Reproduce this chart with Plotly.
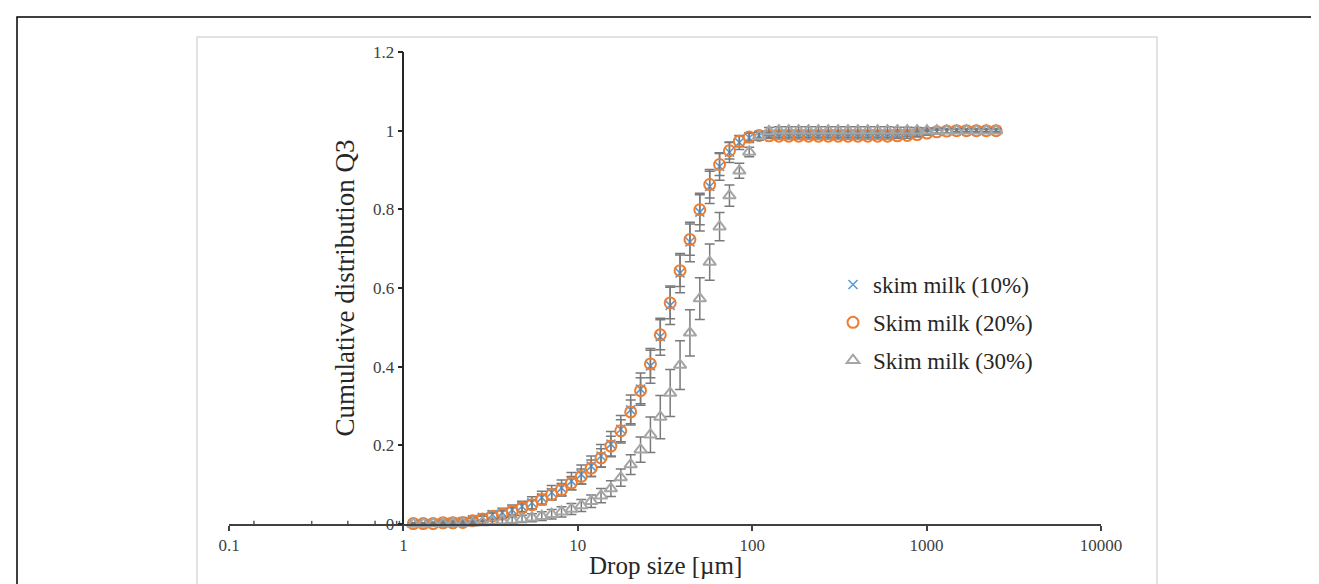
import plotly.graph_objects as go

# ---- data ----
drop_size_um = [1.141, 1.300, 1.481, 1.688, 1.922, 2.190, 2.495, 2.843, 3.238, 3.690,
                4.204, 4.789, 5.457, 6.217, 7.083, 8.070, 9.193, 10.47, 11.93, 13.59,
                15.48, 17.64, 20.10, 22.90, 26.09, 29.72, 33.86, 38.58, 43.95, 50.07,
                57.05, 65.00, 74.05, 84.37, 96.12, 109.5, 124.8, 142.2, 162.0, 184.5,
                210.2, 239.5, 272.9, 310.9, 354.2, 403.5, 459.7, 523.6, 596.7, 679.8,
                774.5, 882.3, 1005, 1145, 1305, 1486, 1693, 1929, 2198, 2503]

q3_10 = [0.001, 0.001, 0.002, 0.004, 0.005, 0.006, 0.011, 0.017, 0.024, 0.029,
         0.036, 0.045, 0.054, 0.067, 0.080, 0.092, 0.109, 0.126, 0.147, 0.173,
         0.203, 0.241, 0.290, 0.343, 0.402, 0.476, 0.556, 0.638, 0.717, 0.793,
         0.858, 0.909, 0.945, 0.970, 0.982, 0.988, 0.991, 0.992, 0.992, 0.992,
         0.992, 0.992, 0.992, 0.992, 0.992, 0.992, 0.992, 0.992, 0.992, 0.993,
         0.993, 0.994, 0.996, 0.998, 0.999, 1.000, 1.000, 1.000, 1.000, 1.000]
err_10 = [0.002, 0.002, 0.003, 0.004, 0.005, 0.006, 0.007, 0.008, 0.010, 0.011,
          0.012, 0.013, 0.015, 0.016, 0.018, 0.020, 0.022, 0.024, 0.026, 0.029,
          0.032, 0.035, 0.038, 0.041, 0.044, 0.047, 0.049, 0.050, 0.050, 0.048,
          0.043, 0.035, 0.026, 0.018, 0.012, 0.010, 0.009, 0.009, 0.009, 0.009,
          0.009, 0.009, 0.009, 0.009, 0.009, 0.009, 0.009, 0.009, 0.009, 0.009,
          0.008, 0.008, 0.007, 0.006, 0.005, 0.004, 0.004, 0.004, 0.004, 0.004]

q3_20 = [0.001, 0.001, 0.001, 0.003, 0.003, 0.004, 0.008, 0.013, 0.020, 0.025,
         0.032, 0.041, 0.049, 0.062, 0.075, 0.087, 0.104, 0.121, 0.142, 0.168,
         0.198, 0.237, 0.285, 0.339, 0.407, 0.481, 0.562, 0.644, 0.723, 0.799,
         0.863, 0.914, 0.949, 0.973, 0.984, 0.988, 0.987, 0.986, 0.986, 0.986,
         0.986, 0.986, 0.986, 0.986, 0.986, 0.986, 0.986, 0.986, 0.986, 0.987,
         0.988, 0.990, 0.994, 0.997, 0.999, 1.000, 1.000, 1.000, 1.000, 1.000]
err_20 = [0.002, 0.002, 0.002, 0.003, 0.004, 0.005, 0.006, 0.007, 0.008, 0.009,
          0.010, 0.011, 0.012, 0.013, 0.014, 0.016, 0.017, 0.019, 0.021, 0.023,
          0.025, 0.028, 0.030, 0.033, 0.035, 0.038, 0.040, 0.040, 0.040, 0.038,
          0.034, 0.028, 0.021, 0.014, 0.010, 0.008, 0.007, 0.007, 0.007, 0.007,
          0.007, 0.007, 0.007, 0.007, 0.007, 0.007, 0.007, 0.007, 0.007, 0.007,
          0.007, 0.006, 0.005, 0.005, 0.004, 0.003, 0.003, 0.003, 0.003, 0.003]

q3_30 = [0.000, 0.000, 0.001, 0.001, 0.002, 0.002, 0.003, 0.004, 0.006, 0.008,
         0.010, 0.013, 0.016, 0.020, 0.025, 0.031, 0.038, 0.047, 0.058, 0.072,
         0.090, 0.118, 0.151, 0.189, 0.227, 0.272, 0.333, 0.404, 0.486, 0.573,
         0.666, 0.756, 0.835, 0.898, 0.946, 0.986, 0.998, 1.000, 1.000, 1.000,
         1.000, 1.000, 1.000, 1.000, 1.000, 1.000, 1.000, 1.000, 1.000, 1.000,
         1.000, 1.000, 1.000, 1.000, 1.000, 1.000, 1.000, 1.000, 1.000, 1.000]
err_30 = [0.001, 0.001, 0.002, 0.002, 0.003, 0.003, 0.004, 0.005, 0.006, 0.007,
          0.008, 0.009, 0.010, 0.011, 0.012, 0.013, 0.014, 0.015, 0.016, 0.018,
          0.020, 0.022, 0.025, 0.032, 0.045, 0.055, 0.060, 0.062, 0.059, 0.053,
          0.046, 0.036, 0.027, 0.019, 0.012, 0.010, 0.010, 0.010, 0.010, 0.010,
          0.010, 0.010, 0.010, 0.010, 0.010, 0.010, 0.010, 0.010, 0.010, 0.009,
          0.009, 0.008, 0.007, 0.006, 0.005, 0.005, 0.005, 0.005, 0.005, 0.005]

# sub-micron bins (zero values, only their error marks are visible)
sub_size_um = [0.139, 0.298, 0.480, 0.688, 0.915, 0.949]
sub_q3 = [0, 0, 0, 0, 0, 0]
sub_err = [0.008, 0.008, 0.008, 0.008, 0.008, 0.008]

series_names = ["skim milk (10%)", "Skim milk (20%)", "Skim milk (30%)"]
x_title = "Drop size [µm]"
y_title = "Cumulative distribution Q3"
x_tick_vals = [0.1, 1, 10, 100, 1000, 10000]
x_tick_text = ["0.1", "1", "10", "100", "1000", "10000"]
y_tick_vals = [0, 0.2, 0.4, 0.6, 0.8, 1.0, 1.2]
y_tick_text = ["0", "0.2", "0.4", "0.6", "0.8", "1", "1.2"]

FONT = "Liberation Serif, Times New Roman, serif"
ERRC = "#7a7a7a"

fig = go.Figure()

fig.add_trace(go.Scatter(
    x=sub_size_um, y=sub_q3, mode="markers", showlegend=False,
    marker=dict(size=1, opacity=0),
    error_y=dict(type="data", array=sub_err, color="#595959", thickness=1.5, width=0),
    cliponaxis=False, hoverinfo="skip"))

fig.add_trace(go.Scatter(
    x=drop_size_um, y=q3_10, mode="markers", name=series_names[0], legendgroup="a",
    marker=dict(symbol="x-thin", size=9, line=dict(color="#5B9BD5", width=1.6), color="#5B9BD5"),
    error_y=dict(type="data", array=err_10, color=ERRC, thickness=1.5, width=5),
    cliponaxis=False))

fig.add_trace(go.Scatter(
    x=drop_size_um, y=q3_20, mode="markers", name=series_names[1], legendgroup="b",
    marker=dict(symbol="circle-open", size=11, line=dict(color="#ED7D31", width=2), color="#ED7D31"),
    error_y=dict(type="data", array=err_20, color=ERRC, thickness=1.5, width=5),
    cliponaxis=False))

fig.add_trace(go.Scatter(
    x=drop_size_um, y=q3_30, mode="markers", name=series_names[2], legendgroup="c",
    marker=dict(symbol="triangle-up-open", size=11, line=dict(color="#A5A5A5", width=2), color="#A5A5A5"),
    error_y=dict(type="data", array=err_30, color=ERRC, thickness=1.5, width=5),
    cliponaxis=False))

L, R, T, B = 221, 226, 44, 68
W, H = 1319, 584
pw, ph = W - L - R, H - T - B

def px(xp):
    return (xp - L) / pw

def py(yp):
    return (H - B - yp) / ph

fig.update_layout(
    width=W, height=H,
    margin=dict(l=L, r=R, t=T, b=B, autoexpand=False),
    paper_bgcolor="white", plot_bgcolor="white",
    font=dict(family=FONT, color="#262626"),
    showlegend=True,
    legend=dict(x=px(825), y=py(255), xanchor="left", yanchor="top",
                bgcolor="rgba(0,0,0,0)", font=dict(family=FONT, size=23, color="#262626"),
                tracegroupgap=5, itemwidth=30),
    xaxis=dict(type="log", range=[-1, 4], domain=[0, 1],
               tickvals=x_tick_vals, ticktext=x_tick_text,
               showgrid=False, zeroline=False,
               showline=True, linecolor="#404040", linewidth=1.5,
               ticks="outside", ticklen=5, tickwidth=1.5, tickcolor="#404040",
               tickfont=dict(family=FONT, size=17, color="#404040")),
    yaxis=dict(range=[0, 1.2], anchor="free", position=0.2,
               tickvals=y_tick_vals, ticktext=y_tick_text,
               showgrid=False, zeroline=False,
               showline=True, linecolor="#262626", linewidth=1.5,
               ticks="outside", ticklen=5, tickwidth=1.5, tickcolor="#262626",
               tickfont=dict(family=FONT, size=17, color="#404040"),
               title=dict(text=y_title, font=dict(family=FONT, size=27, color="#262626"),
                          standoff=10)),
    annotations=[
        dict(text=x_title, xref="paper", yref="paper", x=0.5, y=py(557),
             xanchor="center", yanchor="middle", showarrow=False,
             font=dict(family=FONT, size=25, color="#262626")),
    ],
    shapes=[
        dict(type="rect", xref="paper", yref="paper",
             x0=px(189), x1=px(1149), y0=py(577), y1=py(29),
             line=dict(color="#D9D9D9", width=1.5), layer="below"),
        dict(type="rect", xref="paper", yref="paper",
             x0=px(9), x1=px(1340), y0=py(620), y1=py(9),
             line=dict(color="#000000", width=1.5), layer="below"),
    ],
)

fig.write_html("out.html")
